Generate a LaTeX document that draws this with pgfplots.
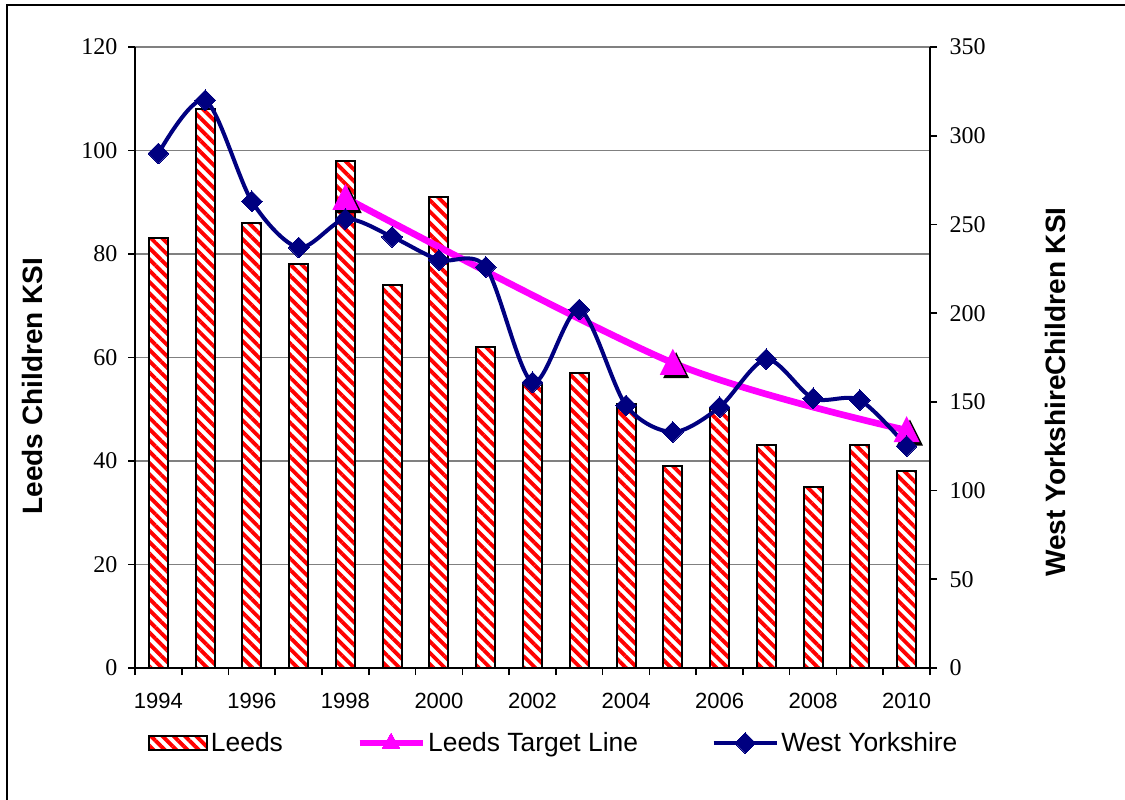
\documentclass[border=0pt]{standalone}
\usepackage{fontspec}
\setmainfont{Liberation Serif}
\newfontfamily\arial{Liberation Sans}
\usepackage{pgfplots}
\pgfplotsset{compat=1.18}
\usetikzlibrary{patterns.meta}
\definecolor{wynavy}{RGB}{0,0,128}
\definecolor{tgtmag}{RGB}{255,0,255}
\definecolor{gridgray}{RGB}{128,128,128}

\pgfdeclareplotmark{shtri}{%
  \pgfsetfillcolor{black}%
  \pgfpathmoveto{\pgfqpoint{2.5pt}{8pt}}%
  \pgfpathlineto{\pgfqpoint{-7.25pt}{-11.5pt}}%
  \pgfpathlineto{\pgfqpoint{12.25pt}{-11.5pt}}%
  \pgfpathclose
  \pgfusepath{fill}%
  \pgfsetfillcolor{tgtmag}%
  \pgfpathmoveto{\pgfqpoint{0pt}{10.5pt}}%
  \pgfpathlineto{\pgfqpoint{-9.75pt}{-9pt}}%
  \pgfpathlineto{\pgfqpoint{9.75pt}{-9pt}}%
  \pgfpathclose
  \pgfusepath{fill}%
}

\pgfplotsset{
  leedsbar/.style={draw=black, line width=1.5pt, fill=white,
    postaction={pattern={Lines[angle=-45,distance=6pt,line width=2.9pt]}, pattern color=red}},
  barlegend/.style={legend image code/.code={\draw[##1] (0pt,-5.6pt) rectangle (43.5pt,5.6pt);}},
  linelegend/.style={legend image code/.code={\draw[##1, mark repeat=2, mark phase=2] plot coordinates {(0pt,0pt) (23.6pt,0pt) (47.2pt,0pt)};}},
  common/.style={
    at={(101.25pt,99pt)}, anchor=south west,
    width=596.25pt, height=465.75pt, scale only axis,
    xmin=1993.5, xmax=2010.5,
    tick align=outside, major tick length=5.25pt,
    axis line style={-, line width=1.2pt, black},
    tick style={black, line width=1.2pt},
    /pgf/number format/assume math mode=true,
  },
}

\pgfplotstableread{
year leeds
1994 83
1995 108
1996 86
1997 78
1998 98
1999 74
2000 91
2001 62
2002 55
2003 57
2004 51
2005 39
2006 50
2007 43
2008 35
2009 43
2010 38
}\leedsdata

\pgfplotstableread{
year wy
1994 290
1995 320
1996 263
1997 237
1998 253
1999 243
2000 230
2001 226
2002 161
2003 202
2004 148
2005 133
2006 147
2007 174
2008 152
2009 151
2010 125
}\wydata

\pgfplotstableread{
year target
1998 265
2005 172
2010 134
}\targetdata

\begin{document}
\begin{tikzpicture}
\useasboundingbox (0pt,0pt) rectangle (843.75pt,600pt);
\fill[white] (0pt,0pt) rectangle (843.75pt,600pt);
\draw[line width=1.5pt] (5.25pt,-2pt) -- (5.25pt,596.25pt) -- (846pt,596.25pt);

\begin{axis}[common,
  ymin=0, ymax=120,
  axis x line*=bottom, axis y line*=left,
  ytick={0,20,...,120},
  yticklabel style={font=\fontsize{18}{20}\selectfont, xshift=-4.5pt},
  ymajorgrids, grid style={gridgray, line width=1pt},
  xtick={1993.5,1994.5,...,2010.5}, xticklabels={},
  extra x ticks={1994,1996,1998,2000,2002,2004,2006,2008,2010},
  extra x tick labels={1994,1996,1998,2000,2002,2004,2006,2008,2010},
  extra x tick style={major tick length=0pt, grid=none},
  xticklabel style={font=\arial\fontsize{16.5}{18}\selectfont, yshift=-15pt},
]
\addplot[ybar, bar width=14.25pt, leedsbar] table[x=year, y=leeds] {\leedsdata};
\end{axis}

\begin{axis}[common,
  ymin=0, ymax=350,
  axis x line=none, axis y line*=right,
  ytick={0,50,...,350},
  yticklabel style={font=\fontsize{18}{20}\selectfont, xshift=6pt},
  legend columns=3,
  legend cell align=left,
  legend style={at={(0.0164,-0.1208)}, anchor=west, draw=none, fill=none,
    inner sep=0pt, font=\arial\fontsize{19.8}{23}\selectfont,
    /tikz/every even column/.append style={column sep=53.25pt}},
]
\addplot[forget plot, tgtmag, line width=5pt, smooth, mark=shtri] table[x=year, y=target] {\targetdata};
\addplot[forget plot, wynavy, line width=3pt, smooth, mark=square*, mark size=5.5pt,
  mark options={rotate=45, solid, line width=0pt}] table[x=year, y=wy] {\wydata};

\addlegendimage{leedsbar, barlegend}
\addlegendentry{Leeds}
\addlegendimage{tgtmag, line width=4.5pt, mark=triangle*, mark size=7.5pt, mark options={solid, line width=0pt}, linelegend}
\addlegendentry{Leeds Target Line}
\addlegendimage{wynavy, line width=3pt, mark=square*, mark size=5.5pt, mark options={rotate=45, solid, line width=0pt}, linelegend}
\addlegendentry{West Yorkshire}
\end{axis}

\node[rotate=90, font=\arial\bfseries\fontsize{21}{24}\selectfont] at (24pt,310.5pt) {Leeds Children KSI};
\node[rotate=90, font=\arial\bfseries\fontsize{21}{24}\selectfont] at (791.25pt,306pt) {West YorkshireChildren KSI};
\end{tikzpicture}
\end{document}
